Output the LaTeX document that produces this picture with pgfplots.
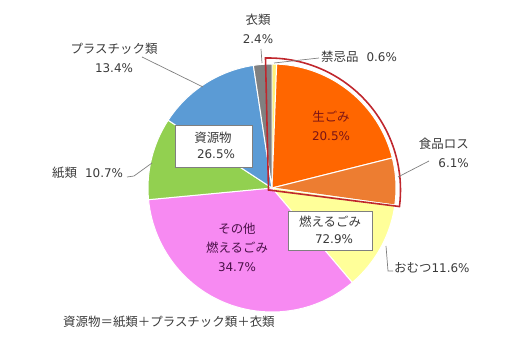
\documentclass[border=0pt]{standalone}
\usepackage{pgfplots}
\pgfplotsset{compat=1.18}
\usepackage{pgfplotstable}
\usepackage{fontspec}
\setmainfont{Noto Sans CJK JP}
\newfontfamily\dejavu{DejaVu Sans}[Scale=0.96]
\newcommand\nm[1]{{\dejavu #1}}
\definecolor{cKinki}{HTML}{FFF27A}
\definecolor{cNama}{HTML}{FF6600}
\definecolor{cLoss}{HTML}{ED7D31}
\definecolor{cOmutsu}{HTML}{FFFF99}
\definecolor{cOther}{HTML}{F78AF2}
\definecolor{cPaper}{HTML}{92D050}
\definecolor{cPlastic}{HTML}{5B9BD5}
\definecolor{cCloth}{HTML}{808080}
\definecolor{cRed}{HTML}{C0272D}
\definecolor{txt}{HTML}{3A3A3A}
\definecolor{leader}{HTML}{7F7F7F}
\definecolor{darkred}{HTML}{7B1416}
\definecolor{darkpurple}{HTML}{4A1048}

\pgfplotstableread{
item value colour
kinki 0.6 cKinki
nama 20.5 cNama
loss 6.1 cLoss
omutsu 11.6 cOmutsu
other 34.7 cOther
paper 10.7 cPaper
plastic 13.4 cPlastic
cloth 2.4 cCloth
}\piedata

\begin{document}
\begin{tikzpicture}[font=\fontsize{12.5}{19}\selectfont, text=txt, every node/.style={inner sep=0pt}]
\path[use as bounding box] (0,0) rectangle (530bp,359bp);
\begin{axis}[at={(0,0)}, anchor=south west, scale only axis, width=530bp, height=359bp,
  xmin=0, xmax=530, ymin=0, ymax=359, hide axis, clip=false]
\pgfplotsextra{
  \def\acc{0}
  \pgfplotsforeachungrouped \idx in {0,...,7}{
    \pgfplotstablegetelem{\idx}{value}\of\piedata \let\val\pgfplotsretval
    \pgfplotstablegetelem{\idx}{colour}\of\piedata \let\col\pgfplotsretval
    \pgfmathsetmacro\sa{90-3.6*\acc}
    \pgfmathsetmacro\ea{90-3.6*(\acc+\val)}
    \fill[fill=\col, draw=white, line width=1pt] (axis cs:272,171) -- ++(\sa:124bp)
      arc[start angle=\sa, end angle=\ea, radius=124bp] -- cycle;
    \pgfmathsetmacro\acc{\acc+\val}
  }
  % highlight outline
  \draw[cRed, line width=1.6pt, line join=miter] (axis cs:268.5,169) -- ++(91.3:132bp)
    arc[start angle=91.3, end angle=-7.2, radius=132bp] -- cycle;
}
% leader lines
\draw[leader, line width=0.7pt] (axis cs:261,310) -- (axis cs:262,296);
\draw[leader, line width=0.7pt] (axis cs:319,301) -- (axis cs:274,296);
\draw[leader, line width=0.7pt] (axis cs:398,182) -- (axis cs:429,198);
\draw[leader, line width=0.7pt] (axis cs:386,113) -- (axis cs:388,88) -- (axis cs:393,88);
\draw[leader, line width=0.7pt] (axis cs:127,182) -- (axis cs:134,183) -- (axis cs:152,196);
\draw[leader, line width=0.7pt] (axis cs:142,302) -- (axis cs:203,272);
% labels
\node[align=center] at (axis cs:258,330.5) {衣類\\\nm{2.4\%}};
\node[anchor=west] at (axis cs:321,302) {禁忌品\hspace{8bp}\nm{0.6\%}};
\node[align=center, text=darkred] at (axis cs:331,233.5) {生ごみ\\\nm{20.5\%}};
\node[align=right, anchor=east] at (axis cs:469,206.5) {食品ロス\\\nm{6.1\%}};
\node[anchor=west] at (axis cs:394,91) {おむつ\nm{11.6\%}};
\node[align=center, text=darkpurple] at (axis cs:237,112) {その他\\燃えるごみ\\\nm{34.7\%}};
\node[anchor=west] at (axis cs:52,186) {紙類\hspace{8bp}\nm{10.7\%}};
\node[align=center] at (axis cs:114,301.5) {プラスチック類\\\nm{13.4\%}};
% boxes
\draw[leader, fill=white, line width=0.8pt] (axis cs:288,148) rectangle (axis cs:372,109);
\node at (axis cs:330,137) {燃えるごみ};
\node at (axis cs:334,120) {\nm{72.9\%}};
\draw[leader, fill=white, line width=0.8pt] (axis cs:175,234) rectangle (axis cs:252,192);
\node at (axis cs:213,221) {資源物};
\node at (axis cs:216,205) {\nm{26.5\%}};
% note
\node[anchor=west] at (axis cs:63,37) {資源物＝紙類＋プラスチック類＋衣類};
\end{axis}
\end{tikzpicture}
\end{document}
